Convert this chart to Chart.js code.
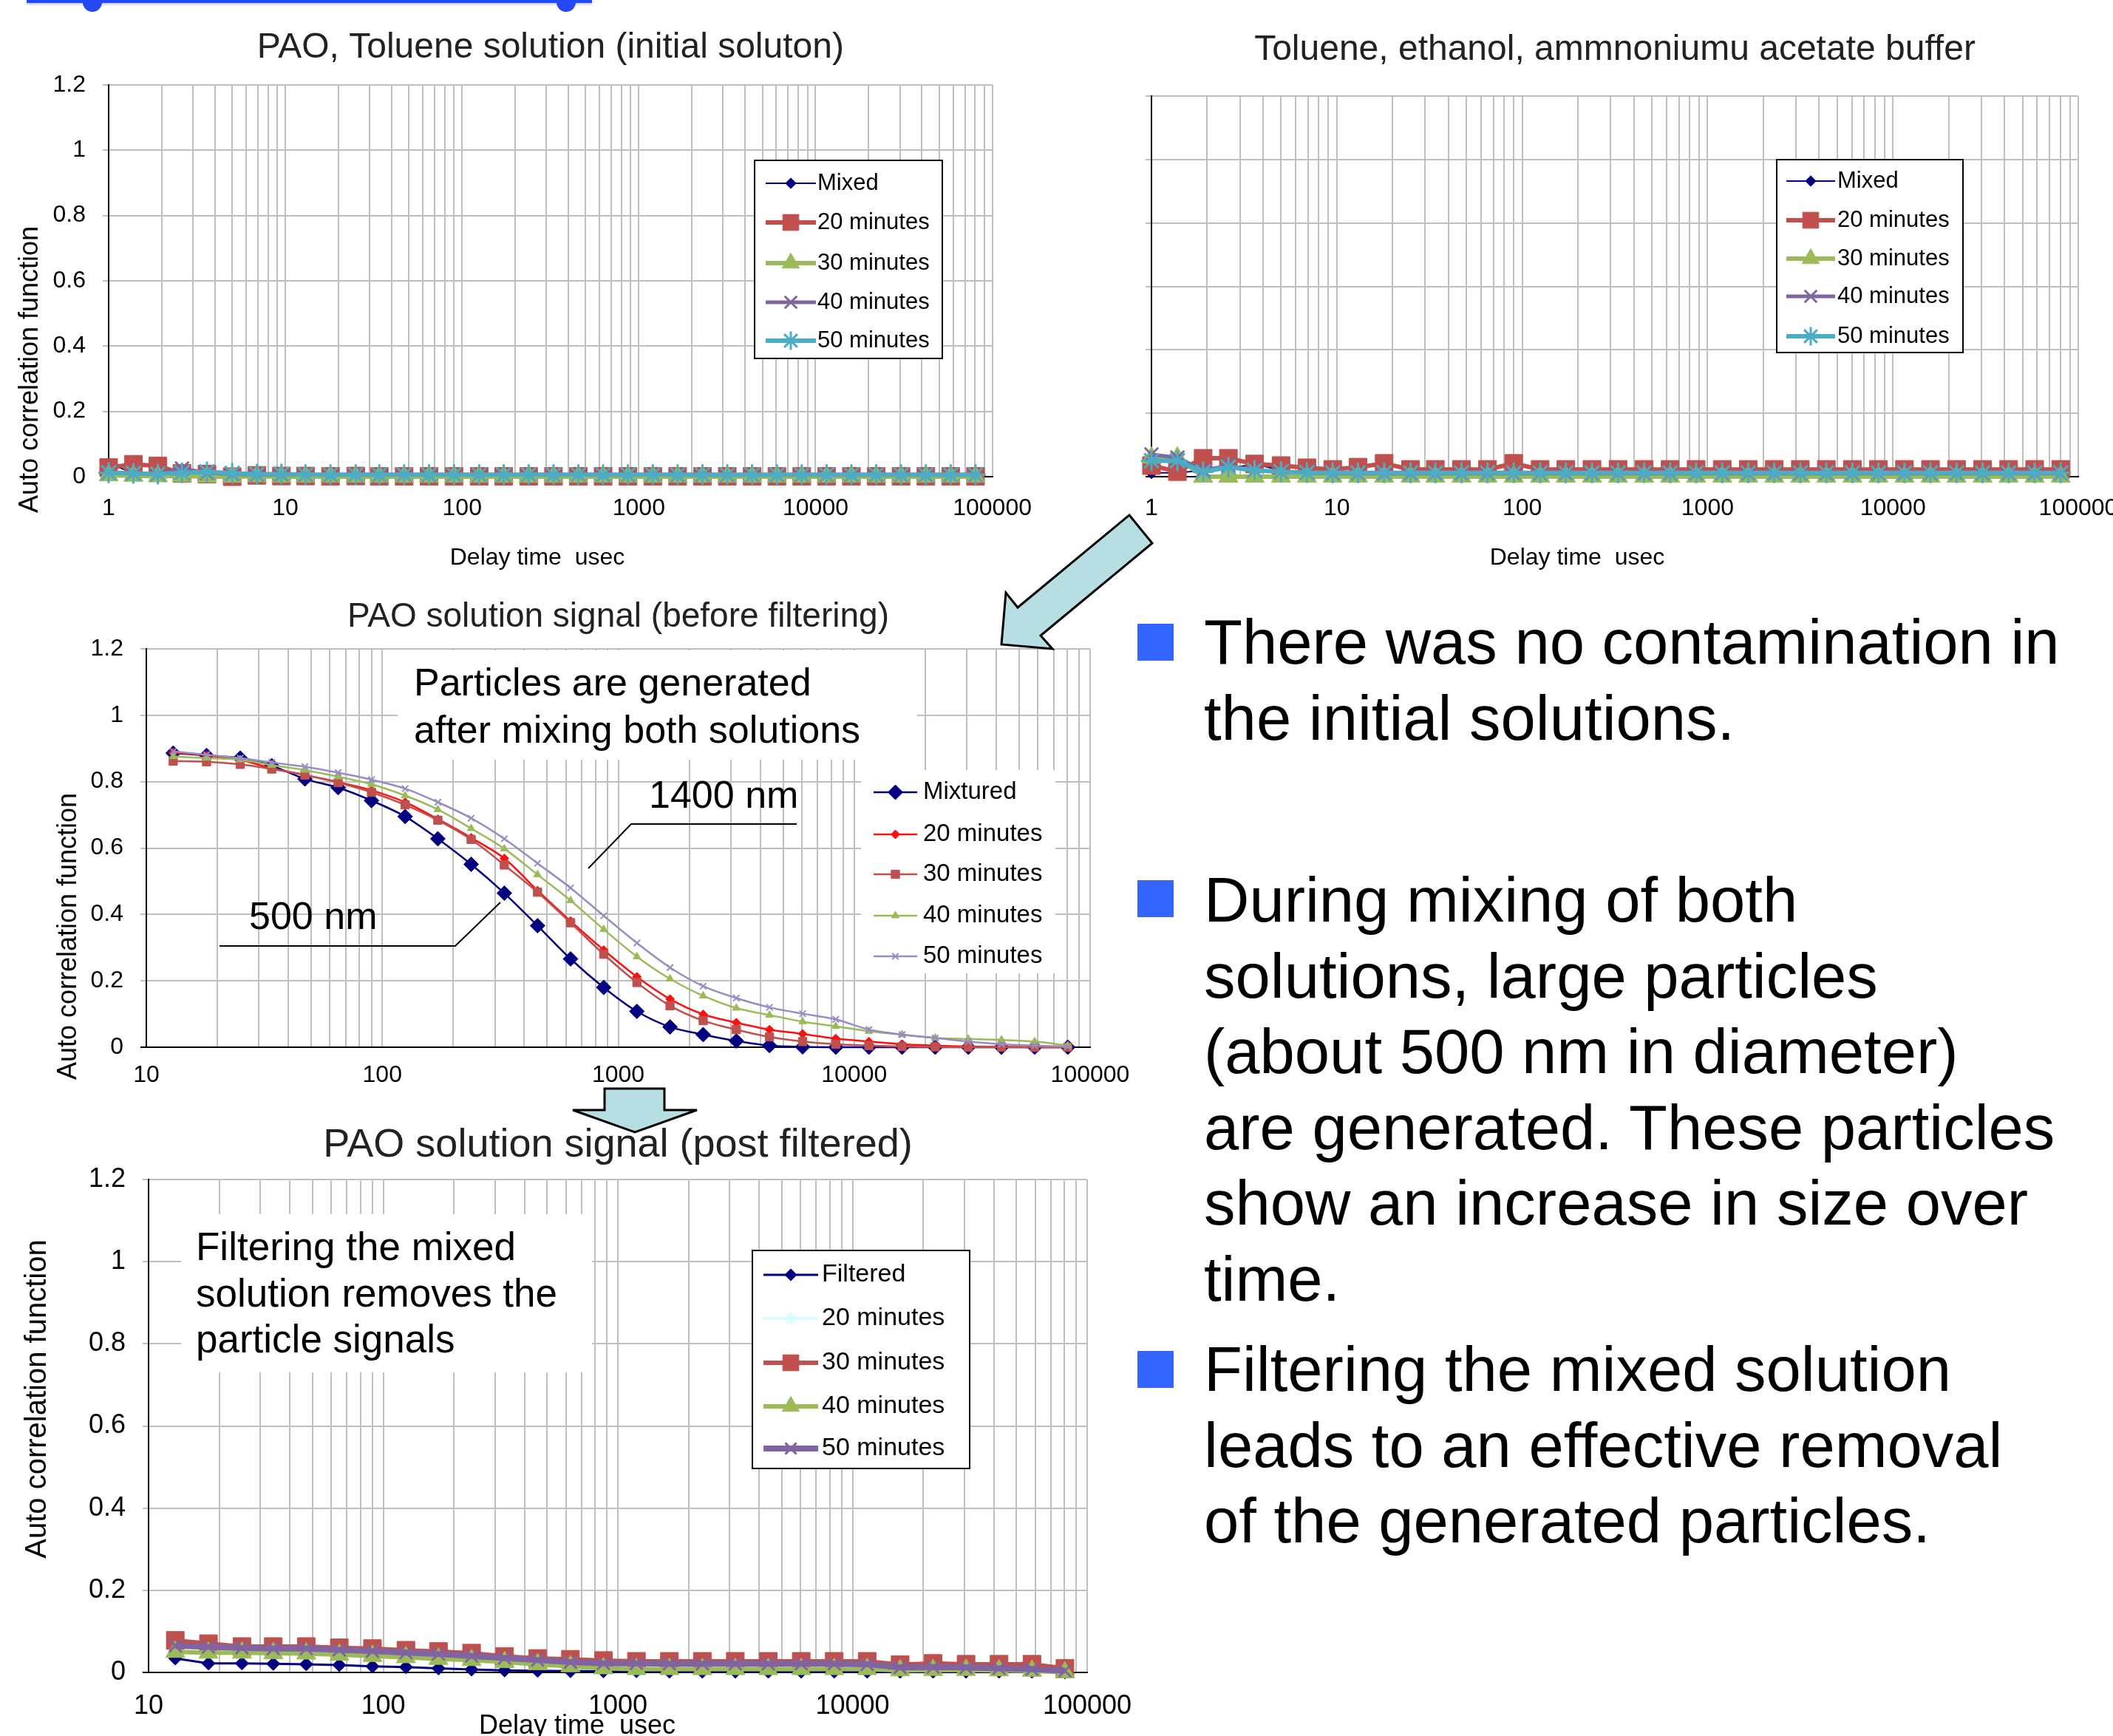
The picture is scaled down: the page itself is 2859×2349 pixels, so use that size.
<!DOCTYPE html>
<html>
<head>
<meta charset="utf-8">
<script src="https://cdn.jsdelivr.net/npm/chart.js@4.4.1/dist/chart.umd.min.js"></script>
<style>
  body { margin: 0; width: 2859px; height: 2349px; overflow: hidden; background: #fff; position: relative;
         font-family: 'Liberation Sans', Arial, sans-serif; }
  canvas { position: absolute; }
  .bar { position: absolute; background: #2448F5; box-shadow: 0 2px 3px rgba(0,0,0,0.25); }
  .dot { position: absolute; width: 26px; height: 26px; border-radius: 50%; background: #2448F5; }
  .bullet { position: absolute; left: 1539px; width: 49px; height: 50px; background: #3465FF; }
  .para { position: absolute; left: 1629px; font-size: 85px; line-height: 102.5px; white-space: nowrap; color: #000; }
  svg { position: absolute; left: 0; top: 0; }
</style>
</head>
<body>
<div class="bar" style="left:36px;top:0;width:765px;height:4px"></div>
<div class="dot" style="left:112px;top:-10px"></div>
<div class="dot" style="left:753px;top:-10px"></div>

<canvas id="initialChart" width="1420" height="790" style="left:0;top:0"></canvas>
<canvas id="bufferChart" width="1492" height="790" style="left:1420px;top:0"></canvas>
<canvas id="beforeChart" width="1575" height="690" style="left:0;top:790px"></canvas>
<canvas id="postChart" width="1571" height="900" style="left:0;top:1480px"></canvas>

<svg width="2859" height="2349">
  <polygon points="1528,697 1559,735 1408,860 1424,878 1355,872 1361,802 1377,822" fill="#B7DFE3" stroke="#000" stroke-width="3"/>
  <polygon points="818,1473 899,1473 899,1502 943,1502 859,1532 775,1502 818,1502" fill="#B7DFE3" stroke="#000" stroke-width="3"/>
</svg>

<div class="bullet" style="top:844px"></div>
<div class="para" style="top:818px">There was no contamination in<br>the initial solutions.</div>
<div class="bullet" style="top:1191px"></div>
<div class="para" style="top:1167px">During mixing of both<br>solutions, large particles<br>(about 500 nm in diameter)<br>are generated. These particles<br>show an increase in size over<br>time.</div>
<div class="bullet" style="top:1828px"></div>
<div class="para" style="top:1802px">Filtering the mixed solution<br>leads to an effective removal<br>of the generated particles.</div>

<script>
Chart.defaults.font.family = "'Liberation Sans', Arial, sans-serif";
Chart.defaults.color = '#000';
const FONT = "'Liberation Sans', Arial, sans-serif";

// delay times (usec) of the correlator channels
const delayInitial = [1, 1.38, 1.9, 2.6, 3.6, 5, 6.9, 9.5, 13, 18, 25, 34, 47, 65, 90, 125, 172, 238,
  329, 455, 628, 868, 1200, 1658, 2291, 3166, 4375, 6046, 8355, 11546, 15955, 22047, 30466, 42101, 58178, 80395];
const delayPAO = [13, 18, 25, 34, 47, 65, 90, 125, 172, 238, 329, 455, 628, 868, 1200, 1658, 2291, 3166,
  4375, 6046, 8355, 11546, 15955, 22047, 30466, 42101, 58178, 80395];

// tick labels
const decadesInitial = [1, 10, 100, 1000, 10000, 100000];
const decadesPAO = [10, 100, 1000, 10000, 100000];
const yTicks = [0, 0.2, 0.4, 0.6, 0.8, 1, 1.2];

// legend names
const namesInitial = ['Mixed', '20 minutes', '30 minutes', '40 minutes', '50 minutes'];
const namesBefore = ['Mixtured', '20 minutes', '30 minutes', '40 minutes', '50 minutes'];
const namesPost = ['Filtered', '20 minutes', '30 minutes', '40 minutes', '50 minutes'];

// PAO, toluene solution (initial)
const initMixed = [0.040, 0.012, 0.010, 0.022, 0.010, 0.006, 0.005, 0.005, 0.005, 0.004, 0.005, 0.004,
  0.005, 0.004, 0.005, 0.005, 0.004, 0.005, 0.004, 0.005, 0.005, 0.004, 0.005, 0.004, 0.005, 0.004,
  0.005, 0.004, 0.005, 0.004, 0.005, 0.004, 0.005, 0.004, 0.005, 0.004];
const init20 = [0.028, 0.038, 0.033, 0.010, 0.008, 0.000, 0.004, 0.002, 0.002, 0.001, 0.002, 0.001,
  0.001, 0.001, 0.001, 0.001, 0.001, 0.001, 0.001, 0.001, 0.001, 0.001, 0.001, 0.001, 0.001, 0.001,
  0.001, 0.001, 0.001, 0.001, 0.001, 0.001, 0.001, 0.001, 0.001, 0.001];
const init30 = [0.004, 0.003, 0.001, 0.002, 0.000, 0.000, 0.001, 0.000, 0.000, 0.000, 0.000, 0.000,
  0.000, 0.000, 0.000, 0.000, 0.000, 0.000, 0.000, 0.000, 0.000, 0.000, 0.000, 0.000, 0.000, 0.000,
  0.000, 0.000, 0.000, 0.000, 0.000, 0.000, 0.000, 0.000, 0.000, 0.000];
const init40 = [0.012, 0.010, 0.008, 0.025, 0.012, 0.008, 0.006, 0.006, 0.006, 0.005, 0.006, 0.005,
  0.006, 0.005, 0.006, 0.006, 0.005, 0.006, 0.005, 0.006, 0.005, 0.005, 0.006, 0.005, 0.005, 0.005,
  0.005, 0.005, 0.005, 0.005, 0.005, 0.005, 0.005, 0.005, 0.005, 0.005];
const init50 = [0.012, 0.010, 0.008, 0.012, 0.015, 0.010, 0.008, 0.008, 0.006, 0.006, 0.006, 0.006,
  0.006, 0.006, 0.006, 0.006, 0.006, 0.006, 0.006, 0.006, 0.006, 0.006, 0.006, 0.006, 0.006, 0.006,
  0.006, 0.006, 0.006, 0.006, 0.006, 0.006, 0.006, 0.006, 0.006, 0.006];

// toluene, ethanol, ammonium acetate buffer
const bufMixed = [0.012, 0.012, 0.020, 0.025, 0.040, 0.020, 0.015, 0.012, 0.012, 0.012, 0.012, 0.012,
  0.012, 0.012, 0.012, 0.012, 0.012, 0.012, 0.012, 0.012, 0.012, 0.012, 0.012, 0.012, 0.012, 0.012,
  0.012, 0.012, 0.012, 0.012, 0.012, 0.012, 0.012, 0.012, 0.012, 0.012];
const buf20 = [0.035, 0.016, 0.058, 0.058, 0.040, 0.035, 0.028, 0.023, 0.030, 0.042, 0.023, 0.023,
  0.023, 0.023, 0.042, 0.023, 0.023, 0.023, 0.023, 0.023, 0.023, 0.023, 0.023, 0.023, 0.023, 0.023,
  0.023, 0.023, 0.023, 0.023, 0.023, 0.023, 0.023, 0.023, 0.023, 0.023];
const buf30 = [0.060, 0.060, 0.000, 0.000, 0.000, 0.000, 0.000, 0.000, 0.000, 0.000, 0.000, 0.000,
  0.000, 0.000, 0.000, 0.000, 0.000, 0.000, 0.000, 0.000, 0.000, 0.000, 0.000, 0.000, 0.000, 0.000,
  0.000, 0.000, 0.000, 0.000, 0.000, 0.000, 0.000, 0.000, 0.000, 0.000];
const buf40 = [0.070, 0.060, 0.020, 0.035, 0.020, 0.015, 0.012, 0.010, 0.010, 0.010, 0.010, 0.010,
  0.010, 0.010, 0.010, 0.010, 0.010, 0.010, 0.010, 0.010, 0.010, 0.010, 0.010, 0.010, 0.010, 0.010,
  0.010, 0.010, 0.010, 0.010, 0.010, 0.010, 0.010, 0.010, 0.010, 0.010];
const buf50 = [0.050, 0.050, 0.015, 0.030, 0.020, 0.016, 0.013, 0.012, 0.012, 0.012, 0.012, 0.012,
  0.012, 0.012, 0.012, 0.012, 0.012, 0.012, 0.012, 0.012, 0.012, 0.012, 0.012, 0.012, 0.012, 0.012,
  0.012, 0.012, 0.012, 0.012, 0.012, 0.012, 0.012, 0.012, 0.012, 0.012];

// PAO solution signal before filtering
const befMixtured = [0.886, 0.879, 0.871, 0.848, 0.808, 0.782, 0.743, 0.695, 0.628, 0.551, 0.464, 0.366,
  0.266, 0.180, 0.108, 0.061, 0.038, 0.019, 0.005, 0.001, 0, 0, 0, 0, 0, 0, 0, 0];
const bef20 = [0.888, 0.879, 0.866, 0.840, 0.820, 0.799, 0.774, 0.738, 0.687, 0.631, 0.569, 0.472,
  0.380, 0.293, 0.212, 0.145, 0.099, 0.074, 0.053, 0.040, 0.026, 0.017, 0.009, 0.005, 0.002, 0.001, 0, 0];
const bef30 = [0.862, 0.860, 0.852, 0.838, 0.820, 0.797, 0.768, 0.730, 0.684, 0.626, 0.549, 0.467,
  0.375, 0.280, 0.195, 0.125, 0.080, 0.053, 0.031, 0.017, 0.009, 0.005, 0.002, 0.001, 0, 0, 0, 0];
const bef40 = [0.876, 0.871, 0.866, 0.850, 0.835, 0.815, 0.792, 0.758, 0.716, 0.659, 0.598, 0.520,
  0.442, 0.355, 0.273, 0.206, 0.155, 0.118, 0.097, 0.077, 0.063, 0.048, 0.038, 0.028, 0.025, 0.022, 0.017, 0.005];
const bef50 = [0.891, 0.881, 0.871, 0.858, 0.845, 0.827, 0.806, 0.779, 0.738, 0.690, 0.628, 0.554,
  0.480, 0.396, 0.314, 0.240, 0.184, 0.148, 0.120, 0.101, 0.084, 0.053, 0.038, 0.028, 0.017, 0.009, 0.005, 0.002];

// PAO solution signal post filtered
const postFiltered = [0.034, 0.022, 0.022, 0.021, 0.020, 0.018, 0.015, 0.013, 0.010, 0.007, 0.005, 0.004,
  0.003, 0.003, 0.003, 0.002, 0.002, 0.002, 0.002, 0.002, 0.002, 0.002, 0.002, 0.002, 0.002, 0.002, 0.002, 0.000];
const post20 = [0.066, 0.063, 0.060, 0.058, 0.058, 0.055, 0.052, 0.048, 0.045, 0.040, 0.035, 0.030,
  0.025, 0.022, 0.022, 0.022, 0.022, 0.022, 0.022, 0.022, 0.022, 0.022, 0.015, 0.015, 0.012, 0.010, 0.010, 0.005];
const post30 = [0.078, 0.070, 0.063, 0.063, 0.063, 0.060, 0.058, 0.054, 0.051, 0.047, 0.039, 0.034,
  0.032, 0.029, 0.027, 0.027, 0.027, 0.027, 0.027, 0.027, 0.027, 0.027, 0.019, 0.022, 0.020, 0.020, 0.020, 0.010];
const post40 = [0.050, 0.048, 0.048, 0.047, 0.046, 0.043, 0.040, 0.037, 0.033, 0.030, 0.025, 0.020,
  0.015, 0.010, 0.008, 0.008, 0.008, 0.008, 0.008, 0.008, 0.008, 0.008, 0.005, 0.006, 0.006, 0.005, 0.004, 0.000];
const post50 = [0.065, 0.062, 0.060, 0.058, 0.058, 0.055, 0.052, 0.048, 0.045, 0.040, 0.035, 0.030,
  0.025, 0.022, 0.022, 0.021, 0.021, 0.021, 0.021, 0.021, 0.021, 0.020, 0.012, 0.013, 0.012, 0.010, 0.008, 0.004];

// marker / line looks
const excelStyles = [
  { color: '#000080', width: 2, style: 'rectRot', radius: 8, pbw: 1 },
  { color: '#C0504D', width: 6, style: 'rect', radius: 17, pbw: 1 },
  { color: '#9BBB59', width: 6, style: 'triangle', radius: 15, pbw: 1 },
  { color: '#8064A2', width: 5, style: 'crossRot', radius: 13, pbw: 3 },
  { color: '#4BACC6', width: 6, style: 'star', radius: 14, pbw: 3 }
];
const thinStyles = [
  { color: '#000080', width: 2.5, style: 'rectRot', radius: 10, pbw: 1 },
  { color: '#FF1010', width: 2.5, style: 'rectRot', radius: 6, pbw: 1 },
  { color: '#C0504D', width: 2.5, style: 'rect', radius: 8, pbw: 1 },
  { color: '#9BBB59', width: 2.5, style: 'triangle', radius: 6, pbw: 1 },
  { color: '#9A8BC4', width: 2.5, style: 'crossRot', radius: 6, pbw: 2 }
];
const postStyles = [
  { color: '#000080', width: 3, style: 'rectRot', radius: 9, pbw: 1 },
  { color: '#CCFFFF', width: 3, style: 'star', radius: 10, pbw: 2 },
  { color: '#C0504D', width: 6, style: 'rect', radius: 17, pbw: 1 },
  { color: '#9BBB59', width: 6, style: 'triangle', radius: 15, pbw: 1 },
  { color: '#8064A2', width: 8, style: 'crossRot', radius: 12, pbw: 3 }
];

function makeSets(names, xs, series, styles, tension) {
  return series.map((ys, i) => {
    const st = styles[i];
    return {
      label: names[i],
      data: xs.map((x, j) => ({ x: x, y: ys[j] })),
      borderColor: st.color,
      backgroundColor: st.color,
      borderWidth: st.width,
      pointStyle: st.style,
      pointRadius: st.radius,
      pointBorderWidth: st.pbw,
      pointBackgroundColor: st.color,
      pointBorderColor: st.color,
      tension: tension,
      clip: false,
      order: series.length - i
    };
  });
}

function isDecade(v, decades) {
  return decades.some(d => Math.abs(d - v) < 1e-6 * d);
}

function gridTicks(decades) {
  const out = [];
  decades.forEach((d, k) => {
    if (k === decades.length - 1) { out.push({ value: d }); return; }
    for (let m = 1; m <= 9; m++) out.push({ value: m * d });
  });
  return out;
}

function overlayPlugin(cfg) {
  return {
    id: 'overlay',
    beforeDatasetsDraw(chart) {
      const ctx = chart.ctx;
      (cfg.boxes || []).forEach(b => {
        ctx.save();
        ctx.fillStyle = '#fff';
        ctx.fillRect(b.x, b.y, b.w, b.h);
        ctx.restore();
      });
    },
    afterDatasetsDraw(chart) {
      const ctx = chart.ctx;
      const lg = cfg.legend;
      if (lg) {
        ctx.save();
        ctx.fillStyle = '#fff';
        ctx.fillRect(lg.x, lg.y, lg.w, lg.h);
        if (lg.border) {
          ctx.lineWidth = 2;
          ctx.strokeStyle = '#000';
          ctx.strokeRect(lg.x, lg.y, lg.w, lg.h);
        }
        chart.data.datasets.forEach((ds, i) => {
          const y = lg.rows[i];
          ctx.strokeStyle = ds.borderColor;
          ctx.lineWidth = ds.borderWidth;
          ctx.beginPath();
          ctx.moveTo(lg.lineX1, y);
          ctx.lineTo(lg.lineX2, y);
          ctx.stroke();
          ctx.fillStyle = ds.pointBackgroundColor;
          ctx.strokeStyle = ds.pointBorderColor;
          ctx.lineWidth = ds.pointBorderWidth;
          Chart.helpers.drawPoint(ctx, {
            pointStyle: ds.pointStyle, rotation: 0,
            radius: ds.pointRadius * lg.markerScale, borderWidth: ds.pointBorderWidth
          }, (lg.lineX1 + lg.lineX2) / 2, y);
          ctx.fillStyle = '#000';
          ctx.font = lg.size + 'px ' + FONT;
          ctx.textAlign = 'left';
          ctx.textBaseline = 'middle';
          ctx.fillText(ds.label, lg.textX, y);
        });
        ctx.restore();
      }
      (cfg.lines || []).forEach(l => {
        ctx.save();
        ctx.strokeStyle = '#000';
        ctx.lineWidth = 2;
        ctx.beginPath();
        ctx.moveTo(l[0], l[1]);
        for (let k = 2; k < l.length; k += 2) ctx.lineTo(l[k], l[k + 1]);
        ctx.stroke();
        ctx.restore();
      });
      (cfg.texts || []).forEach(t => {
        ctx.save();
        ctx.translate(t.x, t.y);
        if (t.rotate) ctx.rotate(t.rotate);
        ctx.font = t.size + 'px ' + FONT;
        ctx.fillStyle = '#000';
        ctx.textAlign = t.align || 'center';
        ctx.textBaseline = t.baseline || 'middle';
        ctx.fillText(t.text, 0, 0);
        ctx.restore();
      });
    }
  };
}

function makeChart(id, o) {
  const xMin = o.decades[0];
  const xMax = o.decades[o.decades.length - 1];
  return new Chart(document.getElementById(id), {
    type: 'line',
    data: { datasets: o.datasets },
    options: {
      responsive: false,
      animation: false,
      devicePixelRatio: 1,
      events: [],
      layout: { autoPadding: false, padding: { left: 0, top: 0, right: o.padRight, bottom: 0 } },
      plugins: {
        legend: { display: false },
        tooltip: { enabled: false },
        title: {
          display: true, text: o.title, fullSize: false, color: '#222',
          font: { size: o.titleSize, weight: 'normal', lineHeight: 1 },
          padding: { top: o.titleTop, bottom: o.titleBottom }
        }
      },
      scales: {
        x: {
          type: 'logarithmic', min: xMin, max: xMax,
          afterFit: s => { s.height = o.xHeight; },
          afterBuildTicks: s => { s.ticks = gridTicks(o.decades); },
          ticks: {
            autoSkip: false, maxRotation: 0, padding: o.xPad, font: { size: o.tickSize },
            callback: v => isDecade(v, o.decades) ? String(v) : ''
          },
          grid: { drawTicks: false, lineWidth: 2, color: c => (c.tick && c.tick.value === xMin) ? '#000' : '#BFBFBF' },
          border: { color: '#000', width: 2 }
        },
        y: {
          min: yTicks[0], max: yTicks[yTicks.length - 1],
          afterFit: s => { s.width = o.yWidth; },
          ticks: {
            stepSize: 0.2, display: o.yLabels, padding: 23, font: { size: o.tickSize },
            callback: v => String(Math.round(v * 10) / 10)
          },
          grid: { tickLength: 8, lineWidth: 2, color: c => (c.tick && c.tick.value === 0) ? '#000' : '#BFBFBF' },
          border: { color: '#000', width: 2 }
        }
      }
    },
    plugins: [overlayPlugin(o.overlay)]
  });
}

makeChart('initialChart', {
  title: 'PAO, Toluene solution (initial soluton)', titleSize: 48, titleTop: 41, titleBottom: 26,
  decades: decadesInitial, padRight: 75, yWidth: 147, xHeight: 145, xPad: 24, tickSize: 32, yLabels: true,
  datasets: makeSets(namesInitial, delayInitial, [initMixed, init20, init30, init40, init50], excelStyles, 0),
  overlay: {
    legend: { x: 1021, y: 217, w: 254, h: 268, border: true, rows: [248, 301, 356, 409, 461],
              lineX1: 1036, lineX2: 1104, textX: 1106, size: 31, markerScale: 0.9 },
    texts: [
      { text: 'Auto correlation function', x: 41, y: 500, rotate: -Math.PI / 2, size: 36 },
      { text: 'Delay time  usec', x: 727, y: 755, size: 32 }
    ]
  }
});

makeChart('bufferChart', {
  title: 'Toluene, ethanol, ammnoniumu acetate buffer', titleSize: 48, titleTop: 44, titleBottom: 38,
  decades: decadesInitial, padRight: 100, yWidth: 138, xHeight: 145, xPad: 24, tickSize: 32, yLabels: false,
  datasets: makeSets(namesInitial, delayInitial, [bufMixed, buf20, buf30, buf40, buf50], excelStyles, 0),
  overlay: {
    legend: { x: 984, y: 216, w: 252, h: 261, border: true, rows: [245, 298, 350, 401, 455],
              lineX1: 997, lineX2: 1063, textX: 1066, size: 31, markerScale: 0.9 },
    texts: [
      { text: 'Delay time  usec', x: 714, y: 755, size: 32 }
    ]
  }
});

makeChart('beforeChart', {
  title: 'PAO solution signal (before filtering)', titleSize: 46, titleTop: 22, titleBottom: 20,
  decades: decadesPAO, padRight: 100, yWidth: 198, xHeight: 63, xPad: 19, tickSize: 32, yLabels: true,
  datasets: makeSets(namesBefore, delayPAO, [befMixtured, bef20, bef30, bef40, bef50], thinStyles, 0.3),
  overlay: {
    boxes: [{ x: 538, y: 90, w: 703, h: 148 }],
    legend: { x: 1165, y: 252, w: 263, h: 275, border: false, rows: [282, 339, 393, 449, 504],
              lineX1: 1182, lineX2: 1241, textX: 1249, size: 33, markerScale: 1 },
    lines: [[1078, 325, 854, 325, 796, 385], [297, 490, 616, 490, 677, 431]],
    texts: [
      { text: 'Auto correlation function', x: 93, y: 477, rotate: -Math.PI / 2, size: 36 },
      { text: 'Particles are generated', x: 560, y: 151, size: 52, align: 'left', baseline: 'alphabetic' },
      { text: 'after mixing both solutions', x: 560, y: 215, size: 52, align: 'left', baseline: 'alphabetic' },
      { text: '1400 nm', x: 878, y: 303, size: 52, align: 'left', baseline: 'alphabetic' },
      { text: '500 nm', x: 337, y: 467, size: 52, align: 'left', baseline: 'alphabetic' }
    ]
  }
});

makeChart('postChart', {
  title: 'PAO solution signal (post filtered)', titleSize: 54, titleTop: 43, titleBottom: 19,
  decades: decadesPAO, padRight: 100, yWidth: 201, xHeight: 117, xPad: 24, tickSize: 36, yLabels: true,
  datasets: makeSets(namesPost, delayPAO, [postFiltered, post20, post30, post40, post50], postStyles, 0),
  overlay: {
    boxes: [{ x: 245, y: 163, w: 556, h: 214 }],
    legend: { x: 1018, y: 212, w: 294, h: 295, border: true, rows: [245, 304, 364, 423, 480],
              lineX1: 1033, lineX2: 1107, textX: 1112, size: 34, markerScale: 0.9 },
    texts: [
      { text: 'Auto correlation function', x: 51, y: 413, rotate: -Math.PI / 2, size: 40 },
      { text: 'Delay time  usec', x: 781, y: 856, size: 36 },
      { text: 'Filtering the mixed', x: 265, y: 225, size: 53, align: 'left', baseline: 'alphabetic' },
      { text: 'solution removes the', x: 265, y: 288, size: 53, align: 'left', baseline: 'alphabetic' },
      { text: 'particle signals', x: 265, y: 350, size: 53, align: 'left', baseline: 'alphabetic' }
    ]
  }
});
</script>
</body>
</html>
